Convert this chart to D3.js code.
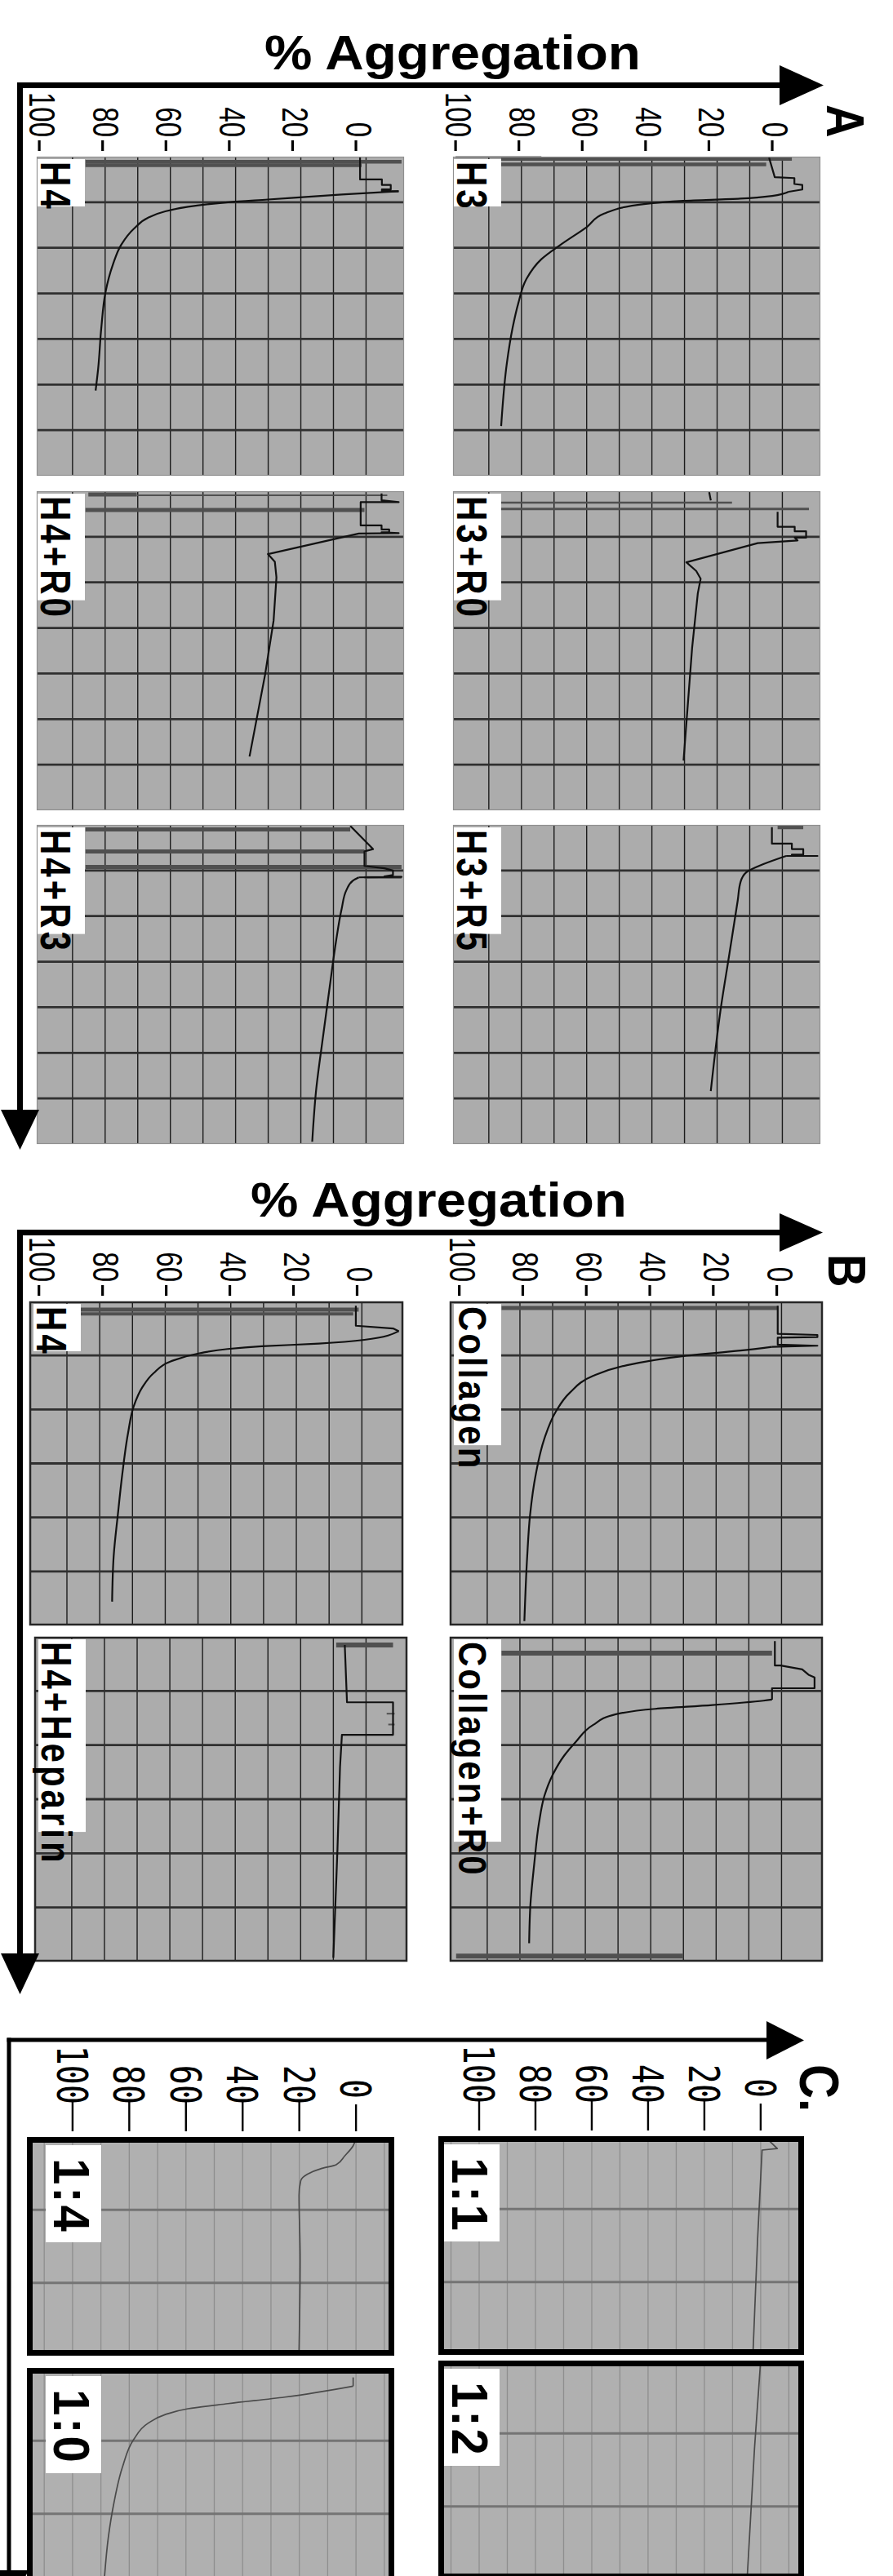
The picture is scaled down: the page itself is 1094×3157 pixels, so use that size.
<!DOCTYPE html>
<html><head><meta charset="utf-8">
<script src="https://cdn.jsdelivr.net/npm/d3@7"></script>
<style>html,body{margin:0;padding:0;background:#fff}svg{display:block}</style>
</head><body><svg id="fig" width="1094" height="3157"></svg>
<script>
// ---------------- DATA ----------------
const ticksAB = [0, 20, 40, 60, 80, 100];
const ticksC  = [0, 20, 40, 60, 80, 100];
const sectionLetters = ["A", "B", "C."];
const axisTitle = "% Aggregation";
const panelKeys = ["H3","H3+R0","H3+R5","H4","H4+R0","H4+R3","H4B","Collagen","H4+Heparin","Collagen+R0","1:1","1:2","1:4","1:0"];
const panelNames = ["H3","H3+R0","H3+R5","H4","H4+R0","H4+R3","H4","Collagen","H4+Heparin","Collagen+R0","1:1","1:2","1:4","1:0"];

// traces: [time (grid rows), % aggregation]
const stepH3 = [[0.02,1.0],[0.45,-0.8],[0.47,-7.0],[0.60,-7.0],[0.62,-9.5],[0.72,-9.5],[0.77,-5.2]];
const curveH3 = [[0.77,-5.2],[0.86,0],[0.92,10.1],[0.97,28.1],[1.04,40.5],[1.25,53.1],[1.54,58.5],[1.93,66.8],[2.25,72.9],[2.68,77.6],[3.22,80.2],[3.76,82.0],[4.53,83.8],[5.91,85.6]];
const marksH3 = [[0.05,85.6,-6.2,4.5],[0.17,85.6,1.9,4.5],[0.01,100,72.9,2]];

const stepH4 = [[0.02,-1.3],[0.50,-1.3],[0.50,-8.2],[0.62,-8.2],[0.62,-11.0],[0.72,-11.0],[0.72,-8.2],[0.76,-8.2],[0.76,-13.5]];
const curveH4 = [[0.76,-13.5],[0.83,4.5],[0.94,27.8],[1.0,40.4],[1.10,53.0],[1.20,60.2],[1.34,65.6],[1.58,70.1],[1.93,74.1],[2.38,76.8],[2.98,79.1],[3.75,80.4],[4.65,81.4],[5.13,82.2]];
const marksH4 = [[0.11,85.4,-14.4,4.5],[0.19,85.4,-1.8,4.5]];

const stepH3R0 = [[0.45,-1.7],[0.78,-1.7],[0.78,-7.1],[0.88,-7.1],[0.88,-10.7],[1.02,-10.7],[1.02,-7.1],[1.08,-8.0],[1.14,4.6],[1.56,27.1],[1.75,24.0],[1.92,22.6],[2.24,23.5],[3.44,25.3],[5.91,28.0]];
const extraH3R0 = [[0.02,19.9],[0.2,19.4]];
const marksH3R0 = [[0.25,85.6,12.7,2.5],[0.39,85.6,-11.6,3]];

const stepH4R0 = [[0.05,-8.1],[0.2,-8.1],[0.24,-13.5],[0.24,-1.5],[0.75,-1.5],[0.75,-8.1],[0.84,-8.1],[0.84,-10.5],[0.90,-10.5],[0.90,-8.1],[0.92,-13.5],[0.93,-0.9],[1.38,27.8],[1.55,25.6],[1.89,25.1],[2.84,26.0],[4.03,28.7],[5.82,33.6]];
const marksH4R0 = [[0.07,84.5,69.2,5],[0.09,69.2,-9.9,2],[0.41,85.4,-2.7,5]];

const stepH3R5 = [[0.05,0.1],[0.41,0.1],[0.41,-6.2],[0.53,-6.2],[0.53,-9.8],[0.65,-9.8],[0.65,-6.2],[0.68,-6.2],[0.68,-14.3],[0.68,-4.4]];
const curveH3R5 = [[0.68,-4.4],[0.86,2.8],[1.04,8.2],[1.25,10.0],[1.66,10.9],[2.86,13.6],[4.05,16.3],[5.84,19.4]];
const marksH3R5 = [[0.05,-1.7,-9.8,5]];

const stepH4R3 = [[0.02,1.8],[0.53,-5.4],[0.58,-2.7],[0.90,-2.7],[0.95,-9.0],[1.0,-11.7],[1.1,-11.7],[1.13,-9.0],[1.14,-14.4],[1.15,-0.9]];
const curveH4R3 = [[1.15,-0.9],[1.22,0.9],[1.43,3.0],[1.84,4.5],[2.56,6.3],[3.46,8.1],[4.65,10.4],[5.84,12.6],[6.95,13.8]];
const marksH4R3 = [[0.10,85.4,1.8,5],[0.58,85.4,-2.7,5],[0.92,85.4,-14.4,5],[1.15,-2.7,-14.4,3]];

const stepH4B = [[0.08,0.4],[0.45,0.4],[0.5,-11.3],[0.55,-13.1]];
const curveH4B = [[0.55,-13.1],[0.71,-2.3],[0.78,12.0],[0.83,29.9],[0.88,40.7],[0.96,49.6],[1.11,58.6],[1.33,64.0],[1.59,67.5],[1.94,70.2],[2.44,72.0],[3.2,73.8],[3.95,75.2],[4.71,76.5],[5.56,77.0]];
const marksH4B = [[0.15,87.3,-0.5,5],[0.23,87.3,1.2,4]];

const stepCol = [[0.08,-0.3],[0.6,-0.3],[0.62,-12.8],[0.66,-12.8],[0.67,-0.3],[0.8,-0.3],[0.82,-12.8],[0.84,1.5]];
const curveCol = [[0.84,1.5],[0.91,11.4],[1.01,29.3],[1.18,47.2],[1.38,57.9],[1.69,65.2],[2.04,69.6],[2.54,73.2],[3.2,75.9],[3.95,77.7],[4.71,78.6],[5.92,79.5]];
const marksCol = [[0.12,86.7,-0.3,5]];

const stepH4Hep = [[0.15,5.2],[1.21,4.5],[1.21,-10.0],[1.81,-10.0],[1.81,6.1],[2.41,6.7],[3.92,7.5],[5.93,8.8]];
const marksH4Hep = [[0.15,7.9,-10.0,6],[1.42,-8,-10.5,2],[1.62,-8.5,-10.5,2]];

const stepColR0 = [[0.08,0.6],[0.53,0.6],[0.53,-1.2],[0.6,-8],[0.7,-10],[0.75,-11.9],[0.95,-11.9],[0.95,1.5],[1.16,1.5]];
const curveColR0 = [[1.16,1.5],[1.18,4.2],[1.26,20.3],[1.33,38.2],[1.43,50.7],[1.63,57.9],[1.94,63.3],[2.19,66.9],[2.54,70.5],[2.94,73.2],[3.44,74.9],[4.2,76.4],[4.95,77.6],[5.66,78.0]];
const marksColR0 = [[0.3,86.7,1.5,6],[5.9,101,29.4,6]];

const stepC11 = [[0.02,-1.9],[0.17,-5.9],[0.19,-0.5],[1.42,1.1],[2.95,2.7]];
const stepC12 = [[0.05,0.1],[1.21,2.2],[2.99,4.8]];
const curveC14 = [[0.02,0],[0.12,1.0],[0.26,4.0],[0.38,7.0],[0.43,12.0],[0.51,17.1],[0.60,19.5],[0.80,20.1],[1.67,19.7],[2.95,20.1]];
const stepC10 = [[0.13,1.0],[0.25,1.0]];
const curveC10 = [[0.25,1.0],[0.40,25.1],[0.49,45.2],[0.56,59.3],[0.64,67.3],[0.76,73.4],[0.98,78.4],[1.36,82.4],[1.85,85.4],[2.33,87.4],[2.90,88.8]];

const traces = {
  "H3":{steps:[stepH3], curves:[curveH3], marks:marksH3},
  "H4":{steps:[stepH4], curves:[curveH4], marks:marksH4},
  "H3+R0":{steps:[stepH3R0, extraH3R0], curves:[], marks:marksH3R0},
  "H4+R0":{steps:[stepH4R0], curves:[], marks:marksH4R0},
  "H3+R5":{steps:[stepH3R5], curves:[curveH3R5], marks:marksH3R5},
  "H4+R3":{steps:[stepH4R3], curves:[curveH4R3], marks:marksH4R3},
  "H4B":{steps:[stepH4B], curves:[curveH4B], marks:marksH4B},
  "Collagen":{steps:[stepCol], curves:[curveCol], marks:marksCol},
  "H4+Heparin":{steps:[stepH4Hep], curves:[], marks:marksH4Hep},
  "Collagen+R0":{steps:[stepColR0], curves:[curveColR0], marks:marksColR0},
  "1:1":{steps:[stepC11], curves:[], marks:[]},
  "1:2":{steps:[stepC12], curves:[], marks:[]},
  "1:4":{steps:[], curves:[curveC14], marks:[]},
  "1:0":{steps:[stepC10], curves:[curveC10], marks:[]}
};

// ---------------- LAYOUT ----------------
const FONT = "'Liberation Sans', Arial, Helvetica, sans-serif";
const domA = [100.8, -15.2], domB = [103, -14.5], domCR = [114.5, -15.4], domCL = [116.1, -13.5];
const layout = [
  {key:"H3", sec:"A", x:555, y:192, w:450, h:391, rows:7, dom:domA, col:"R"},
  {key:"H3+R0", sec:"A", x:555, y:602, w:450, h:391, rows:7, dom:domA, col:"R"},
  {key:"H3+R5", sec:"A", x:555, y:1011, w:450, h:391, rows:7, dom:domA, col:"R"},
  {key:"H4", sec:"A", x:45, y:192, w:450, h:391, rows:7, dom:domA, col:"L"},
  {key:"H4+R0", sec:"A", x:45, y:602, w:450, h:391, rows:7, dom:domA, col:"L"},
  {key:"H4+R3", sec:"A", x:45, y:1011, w:450, h:391, rows:7, dom:domA, col:"L"},
  {key:"H4B", sec:"B", x:36, y:1595, w:458, h:397, rows:6, dom:domB, col:"L"},
  {key:"Collagen", sec:"B", x:551, y:1595, w:457, h:397, rows:6, dom:domB, col:"R", wide:true},
  {key:"H4+Heparin", sec:"B", x:42, y:2006, w:457, h:398, rows:6, dom:domB, col:"L"},
  {key:"Collagen+R0", sec:"B", x:551, y:2006, w:457, h:398, rows:6, dom:domB, col:"R", wide:true},
  {key:"1:1", sec:"C", x:537, y:2618, w:448, h:268, rows:3, dom:domCR, col:"R"},
  {key:"1:2", sec:"C", x:537, y:2893, w:448, h:268, rows:3, dom:domCR, col:"R"},
  {key:"1:4", sec:"C", x:33, y:2619, w:450, h:268, rows:3, dom:domCL, col:"L"},
  {key:"1:0", sec:"C", x:33, y:2902, w:450, h:268, rows:3, dom:domCL, col:"L"}
];

const svg = d3.select("#fig");
svg.append("rect").attr("width",1094).attr("height",3157).attr("fill","#fff");

function rotText(parent, x, y, txt, o) {
  const t = parent.append("text")
    .attr("transform", `translate(${x},${y}) rotate(90) scale(1,${o.sy||1})`)
    .attr("font-family", o.family || FONT)
    .attr("font-size", o.size)
    .attr("font-weight", o.weight || "normal")
    .attr("text-anchor", o.anchor || "start")
    .attr("fill", "#000")
    .text(txt);
  if (o.spacing) t.attr("letter-spacing", o.spacing);
  return t;
}

const gPanels = svg.append("g");
layout.forEach((p, i) => {
  const g = gPanels.append("g");
  const xS = d3.scaleLinear().domain(p.dom).range([p.x, p.x + p.w]);
  const yS = d3.scaleLinear().domain([0, p.rows]).range([p.y, p.y + p.h]);
  p.xS = xS; p.yS = yS;
  const isC = p.sec === "C";
  g.append("rect").attr("x",p.x).attr("y",p.y).attr("width",p.w).attr("height",p.h)
    .attr("fill", isC ? "#b0b0b0" : "#acacac");
  // vertical grid
  let gv;
  if (isC) gv = d3.range(-10, 111, 10);
  else { const g0 = p.sec === "A" ? -3.2 : -1.5; gv = d3.range(10).map(k => g0 + 10.3*k); }
  g.selectAll(".gv").data(gv).join("line")
    .attr("x1", d => xS(d)).attr("x2", d => xS(d))
    .attr("y1", p.y).attr("y2", p.y + p.h)
    .attr("stroke", isC ? "#8e8e8e" : "#1c1c1c").attr("stroke-width", isC ? 1.3 : 1.4);
  const gh = d3.range(1, p.rows);
  g.selectAll(".gh").data(gh).join("line")
    .attr("x1", p.x).attr("x2", p.x + p.w)
    .attr("y1", d => yS(d)).attr("y2", d => yS(d))
    .attr("stroke", isC ? "#747474" : "#303030").attr("stroke-width", isC ? 3 : 2.8);
  const tr = traces[p.key];
  // top marker bands
  g.selectAll(".mk").data(tr.marks).join("line")
    .attr("x1", d => xS(d[1])).attr("x2", d => xS(d[2]))
    .attr("y1", d => yS(d[0])).attr("y2", d => yS(d[0]))
    .attr("stroke", "#505050").attr("stroke-width", d => d[3]);
  const lineLin = d3.line().x(d => xS(d[1])).y(d => yS(d[0])).curve(d3.curveLinear);
  const lineSm = d3.line().x(d => xS(d[1])).y(d => yS(d[0])).curve(d3.curveMonotoneY);
  const col = isC ? "#4a4a4a" : "#111";
  const sw = isC ? 1.7 : 2.2;
  tr.steps.forEach(s => g.append("path").attr("d", lineLin(s)).attr("fill","none")
    .attr("stroke", col).attr("stroke-width", sw).attr("stroke-linejoin","round"));
  tr.curves.forEach(s => g.append("path").attr("d", lineSm(s)).attr("fill","none")
    .attr("stroke", col).attr("stroke-width", sw).attr("stroke-linejoin","round"));
  // border
  if (isC) {
    g.append("rect").attr("x",p.x+3.5).attr("y",p.y+3.5).attr("width",p.w-7).attr("height",p.h-7)
      .attr("fill","none").attr("stroke","#000").attr("stroke-width",7);
  } else if (p.sec === "B") {
    g.append("rect").attr("x",p.x+1).attr("y",p.y+1).attr("width",p.w-2).attr("height",p.h-2)
      .attr("fill","none").attr("stroke","#262626").attr("stroke-width",2.5);
  } else {
    g.append("rect").attr("x",p.x+0.5).attr("y",p.y+0.5).attr("width",p.w-1).attr("height",p.h-1)
      .attr("fill","none").attr("stroke","#8f8f8f").attr("stroke-width",1.2);
  }
  // panel label
  const name = panelNames[panelKeys.indexOf(p.key)];
  const lg = g.append("g");
  if (isC) {
    const bx = p.col === "L" ? p.x + 23 : p.x + 7;
    lg.append("rect").attr("x", bx).attr("y", p.y + 10).attr("width", 68).attr("height", 119).attr("fill","#fff");
    rotText(lg, bx + 10, p.y + 26, name, {size:58, weight:"bold", sy:1.08, spacing:3});
  } else {
    const bx = p.sec === "A" ? p.x + 1 : p.x + 5;
    const box = lg.append("rect").attr("x", bx).attr("y", p.y + 3).attr("width", 58).attr("fill","#fff");
    const t = rotText(lg, bx + (p.wide ? 6 : 4), p.y + 6, name,
      {size: 42, weight: "bold", sy: p.wide ? 1.15 : 1.25, spacing: p.wide ? 3 : 4});
    const len = t.node().getComputedTextLength();
    box.attr("height", Math.max(58, len * 0.86));
  }
});

// ---------------- AXES / TICKS ----------------
const gAx = svg.append("g");
function tickCol(p, isC) {
  const xS = p.xS, top = p.y;
  const tk = isC ? ticksC : ticksAB;
  if (!isC) {
    gAx.selectAll(null).data(tk).join("line")
      .attr("x1", d => xS(d)).attr("x2", d => xS(d))
      .attr("y1", top - 20).attr("y2", top - 7)
      .attr("stroke", "#000").attr("stroke-width", 3.2);
    tk.forEach(d => rotText(gAx, xS(d) - 12, top - 24, String(d), {size:33, sy:1.35, anchor:"end"}));
  } else {
    gAx.selectAll(null).data(tk).join("line")
      .attr("x1", d => xS(d)).attr("x2", d => xS(d))
      .attr("y1", d => d === 0 ? top - 40 : top - 44).attr("y2", top - 7)
      .attr("stroke", "#000").attr("stroke-width", 2.4);
    tk.forEach(d => rotText(gAx, xS(d) - 19, d === 0 ? top - 47 : top - 40, String(d),
      {size:40, sy:1.3, anchor:"end", family:"'DejaVu Sans Mono', monospace"}));
  }
}
["H3","H4","H4B","Collagen","1:1","1:4"].forEach(k => {
  const p = layout.find(q => q.key === k);
  tickCol(p, p.sec === "C");
});

// ---------------- ARROWS & TITLES ----------------
const gA = svg.append("g").attr("fill","#000");
// Section A
gA.append("rect").attr("x",21).attr("y",101).attr("width",7).attr("height",1262);
gA.append("polygon").attr("points","1,1360 48,1360 24.5,1409");
gA.append("rect").attr("x",21).attr("y",101).attr("width",937).attr("height",7);
gA.append("polygon").attr("points","955,80 955,129 1009,104.5");
// Section B
gA.append("rect").attr("x",21).attr("y",1507).attr("width",7).attr("height",890);
gA.append("polygon").attr("points","1,2394 48,2394 24.5,2444");
gA.append("rect").attr("x",21).attr("y",1507).attr("width",937).attr("height",7);
gA.append("polygon").attr("points","955,1487 955,1534 1008,1510.5");
// Section C
gA.append("rect").attr("x",8.5).attr("y",2497.5).attr("width",5).attr("height",700);
gA.append("polygon").attr("points","-13,3150 35,3150 11,3198");
gA.append("rect").attr("x",8.5).attr("y",2497.5).attr("width",933).attr("height",5);
gA.append("polygon").attr("points","939,2477 939,2524 985,2500.5");

// titles
[[324,85],[307,1491]].forEach(([x,y]) => {
  svg.append("text").attr("x",x).attr("y",y).attr("font-family",FONT).attr("font-weight","bold")
    .attr("font-size",59).attr("textLength",461).attr("lengthAdjust","spacingAndGlyphs").text(axisTitle);
});
rotText(svg, 1013, 128, sectionLetters[0], {size:56, weight:"bold", sy:1.17});
rotText(svg, 1015, 1537, sectionLetters[1], {size:56, weight:"bold", sy:1.15});
rotText(svg, 980, 2530, sectionLetters[2], {size:58, weight:"bold", sy:1.18});
</script>
</body></html>
